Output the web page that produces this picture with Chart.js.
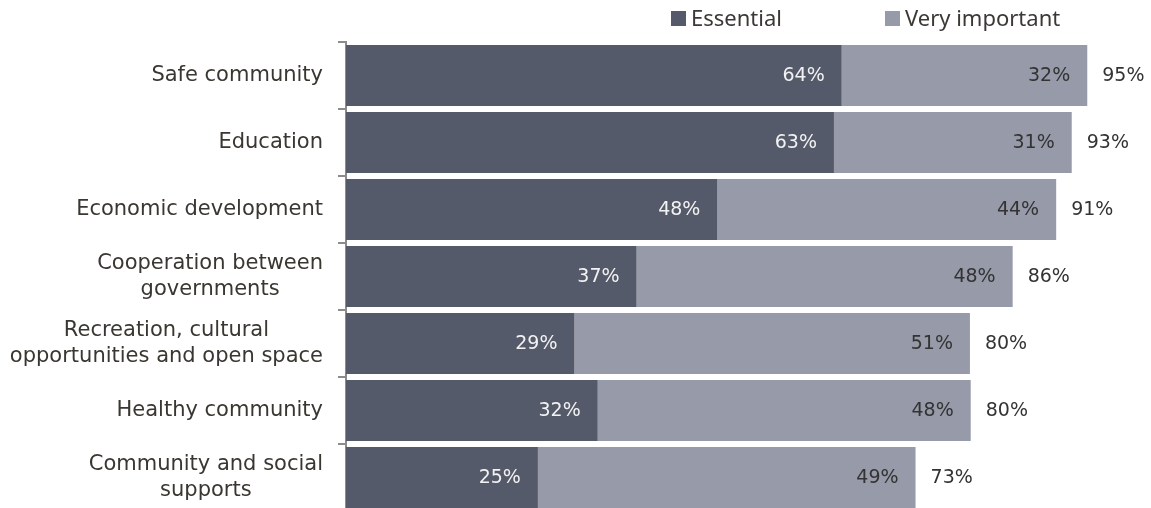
<!DOCTYPE html>
<html>
<head>
<meta charset="utf-8">
<script src="https://cdn.jsdelivr.net/npm/chart.js@4/dist/chart.umd.min.js"></script>
<style>
  html, body { margin: 0; padding: 0; background: #fff; overflow: hidden; }
  #wrap { position: relative; width: 1151px; height: 511px; }
  .legend-item {
    position: absolute; top: 2px;
    font-family: "Noto Sans", "Open Sans", sans-serif; font-size: 22px;
    color: #3b3835; white-space: nowrap; line-height: 30px;
  }
  .legend-item i {
    display: inline-block; width: 15px; height: 15px; margin-right: 5px;
    vertical-align: baseline;
  }
</style>
</head>
<body>
<div id="wrap">
  <canvas id="chart"></canvas>
  <div id="legend"></div>
</div>
<script>
// Categories (multi-line labels) and the two stacked series, in percent.
const categories = [
  ["Safe community"],
  ["Education"],
  ["Economic development"],
  ["Cooperation between", "governments"],
  ["Recreation, cultural", "opportunities and open space"],
  ["Healthy community"],
  ["Community and social", "supports"],
];
const seriesNames = ["Essential", "Very important"];
const essential = [63.8, 62.8, 47.8, 37.4, 29.4, 32.4, 24.7];
const veryImportant = [31.6, 30.6, 43.6, 48.4, 50.9, 48.0, 48.6];

const barColors = ["#555a6a", "#969aa9"];
const valueColors = ["#f2f2f2", "#333333"];
const textColor = "#3a3631";
const valueFont = "19px 'DejaVu Sans', Verdana, sans-serif";
const categoryFont = "21px 'DejaVu Sans', Verdana, sans-serif";

const legendLeft = [671, 885];

// Percent labels inside each segment, plus the total past the end of the bar.
const valueLabels = {
  id: "valueLabels",
  afterDatasetsDraw(chart) {
    const { ctx } = chart;
    ctx.save();
    ctx.font = valueFont;
    ctx.textBaseline = "middle";
    chart.data.datasets.forEach((ds, di) => {
      chart.getDatasetMeta(di).data.forEach((bar, i) => {
        ctx.fillStyle = valueColors[di];
        ctx.textAlign = "right";
        ctx.fillText(Math.round(ds.data[i]) + "%", bar.x - 17, bar.y + 1);
      });
    });
    const last = chart.getDatasetMeta(chart.data.datasets.length - 1);
    last.data.forEach((bar, i) => {
      const total = chart.data.datasets.reduce((s, ds) => s + ds.data[i], 0);
      ctx.fillStyle = "#333333";
      ctx.textAlign = "left";
      ctx.fillText(Math.round(total) + "%", bar.x + 15, bar.y + 1);
    });
    ctx.restore();
  },
};

// Category labels: block right-aligned against the axis, lines centred inside it.
const categoryLabels = {
  id: "categoryLabels",
  afterDraw(chart) {
    const { ctx } = chart;
    const scale = chart.scales.y;
    const right = scale.right - 23;
    const lineHeight = 26;
    ctx.save();
    ctx.font = categoryFont;
    ctx.fillStyle = textColor;
    ctx.textAlign = "center";
    ctx.textBaseline = "middle";
    categories.forEach((lines, i) => {
      const y = scale.getPixelForTick(i);
      const w = Math.max(...lines.map((l) => ctx.measureText(l).width));
      const cx = right - w / 2;
      lines.forEach((line, j) => {
        ctx.fillText(line, cx, y + (j - (lines.length - 1) / 2) * lineHeight);
      });
    });
    ctx.restore();
  },
};

const config = {
  type: "bar",
  data: {
    labels: categories,
    datasets: [
      { label: seriesNames[0], data: essential, backgroundColor: barColors[0] },
      { label: seriesNames[1], data: veryImportant, backgroundColor: barColors[1] },
    ],
  },
  options: {
    indexAxis: "y",
    responsive: true,
    maintainAspectRatio: false,
    animation: false,
    layout: { padding: { top: 42, right: 28, left: 0, bottom: 0 } },
    categoryPercentage: 1,
    barPercentage: 0.91,
    plugins: {
      legend: { display: false },
      tooltip: { enabled: false },
    },
    scales: {
      x: { stacked: true, display: false, min: 0, max: 100 },
      y: {
        stacked: true,
        ticks: { display: false },
        grid: {
          drawOnChartArea: false,
          tickLength: 8,
          color: "#8c8c8c",
          lineWidth: 2,
        },
        border: { color: "#8c8c8c", width: 2 },
        afterFit: (scale) => {
          scale.width = 346;
        },
      },
    },
  },
  plugins: [valueLabels, categoryLabels],
};

new Chart(document.getElementById("chart"), config);

// Legend drawn as plain HTML above the plot.
const legend = document.getElementById("legend");
seriesNames.forEach((name, i) => {
  const item = document.createElement("div");
  item.className = "legend-item";
  item.style.left = legendLeft[i] + "px";
  item.innerHTML = `<i style="background:${barColors[i]}"></i>${name}`;
  legend.appendChild(item);
});
</script>
</body>
</html>
